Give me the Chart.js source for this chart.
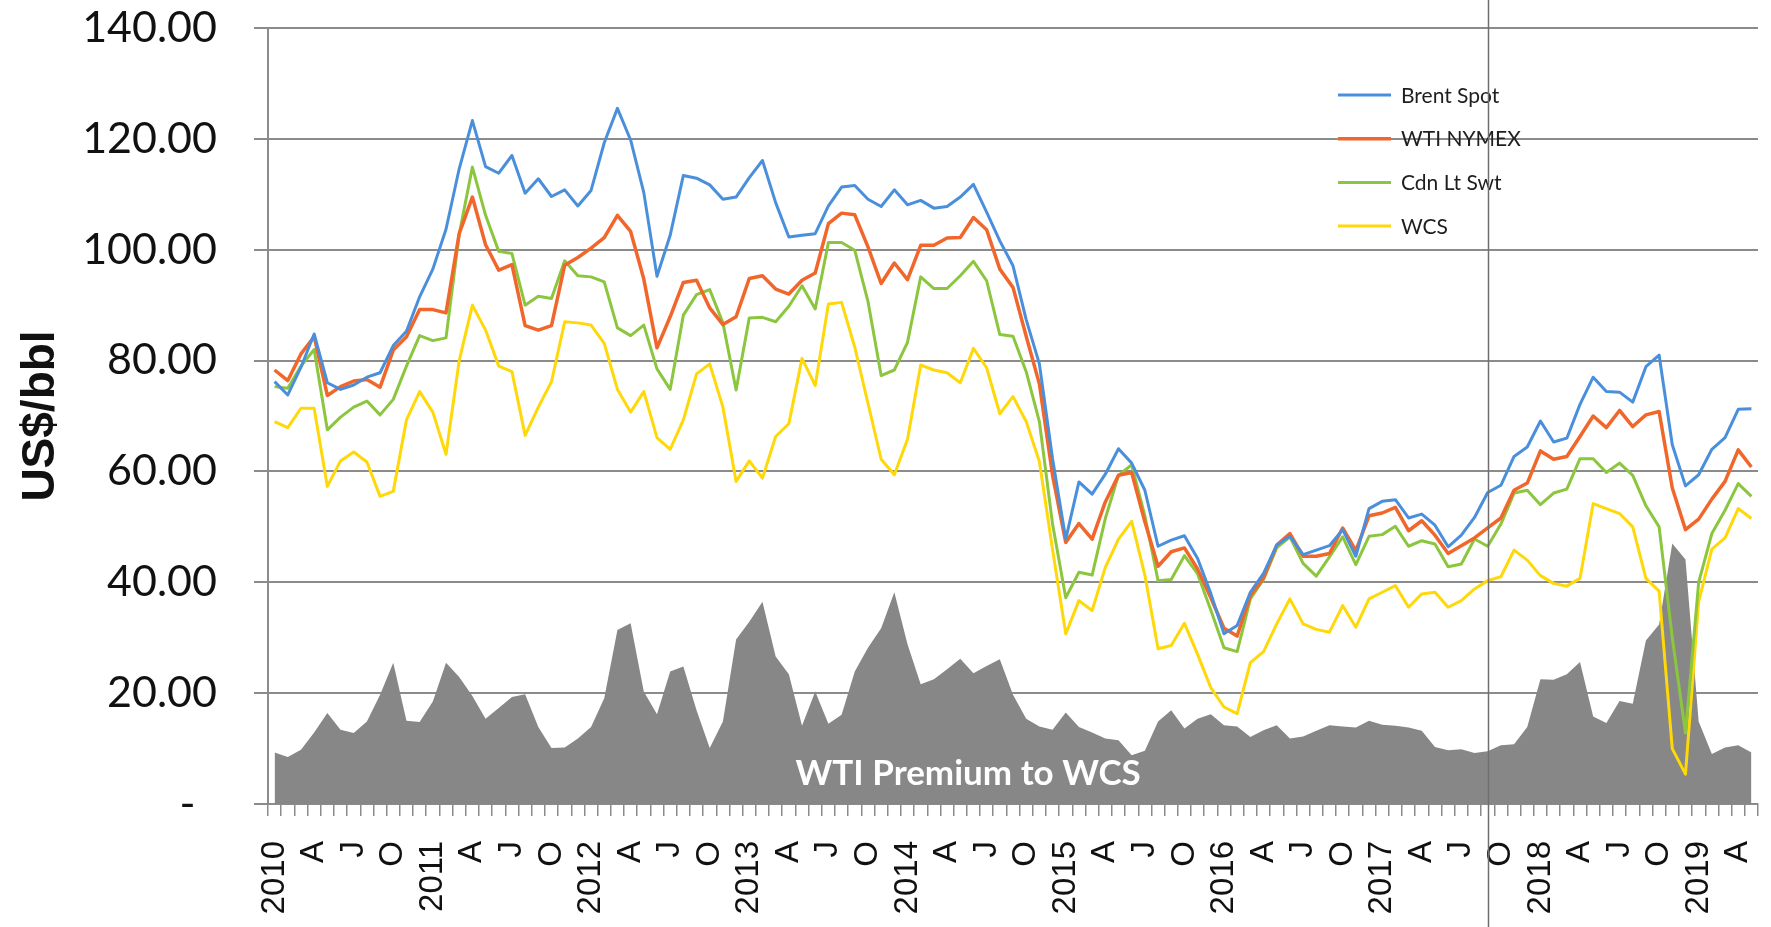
<!DOCTYPE html>
<html>
<head>
<meta charset="utf-8">
<script src="https://cdn.jsdelivr.net/npm/chart.js@4.4.1/dist/chart.umd.min.js"></script>
<style>
  html, body { margin: 0; padding: 0; background: #ffffff; }
  canvas { display: block; }
</style>
</head>
<body>
<canvas id="prices" width="1771" height="927"></canvas>
<script>
// Monthly crude prices, Jan 2010 – May 2019 (US$/bbl)
const firstYear = 2010;
const yearLabels = ['2010', '2011', '2012', '2013', '2014', '2015', '2016', '2017', '2018', '2019'];
const quarterLetters = ['A', 'J', 'O'];   // April, July, October
const monthNames = ['Jan', 'Feb', 'Mar', 'Apr', 'May', 'Jun', 'Jul', 'Aug', 'Sep', 'Oct', 'Nov', 'Dec'];

const brentSpot = [
  76.2, 73.8, 78.8, 84.8, 76.0, 74.8, 75.6, 77.0, 77.8, 82.7, 85.3, 91.5,
  96.5, 103.7, 114.6, 123.3, 115.0, 113.8, 117.0, 110.2, 112.8, 109.6, 110.8, 107.9,
  110.7, 119.3, 125.5, 119.8, 110.3, 95.2, 102.6, 113.4, 112.9, 111.7, 109.1, 109.5,
  113.0, 116.1, 108.5, 102.3, 102.6, 102.9, 107.9, 111.3, 111.6, 109.1, 107.8, 110.8,
  108.1, 108.9, 107.5, 107.8, 109.5, 111.8, 106.8, 101.6, 97.1, 87.4, 79.4, 62.3,
  47.8, 58.1, 55.9, 59.5, 64.1, 61.5, 56.6, 46.5, 47.6, 48.4, 44.3, 38.0,
  30.7, 32.2, 38.2, 41.6, 46.7, 48.3, 45.0, 45.8, 46.6, 49.5, 44.7, 53.3,
  54.6, 54.9, 51.6, 52.3, 50.3, 46.4, 48.5, 51.7, 56.2, 57.5, 62.7, 64.4,
  69.1, 65.3, 66.0, 72.1, 77.0, 74.4, 74.3, 72.5, 78.9, 81.0, 64.8, 57.4,
  59.4, 64.0, 66.1, 71.2, 71.3
];

const wtiNymex = [
  78.3, 76.4, 81.2, 84.3, 73.7, 75.3, 76.3, 76.6, 75.2, 81.9, 84.3, 89.2,
  89.2, 88.6, 102.9, 109.5, 100.9, 96.3, 97.3, 86.3, 85.5, 86.3, 97.2, 98.6,
  100.3, 102.2, 106.2, 103.3, 94.7, 82.3, 87.9, 94.1, 94.5, 89.5, 86.5, 87.9,
  94.8, 95.3, 92.9, 92.0, 94.5, 95.8, 104.7, 106.6, 106.3, 100.5, 93.9, 97.6,
  94.6, 100.8, 100.8, 102.1, 102.2, 105.8, 103.6, 96.5, 93.2, 84.4, 75.8, 59.3,
  47.2, 50.6, 47.8, 54.5, 59.3, 59.8, 50.9, 42.9, 45.5, 46.2, 42.4, 37.2,
  31.7, 30.3, 37.6, 40.8, 46.7, 48.8, 44.7, 44.7, 45.2, 49.8, 45.7, 52.0,
  52.5, 53.5, 49.3, 51.1, 48.5, 45.2, 46.6, 48.0, 49.8, 51.6, 56.6, 57.9,
  63.7, 62.2, 62.7, 66.3, 70.0, 67.9, 71.0, 68.1, 70.2, 70.8, 57.0, 49.5,
  51.4, 55.0, 58.2, 63.9, 60.8
];

const cdnLightSweet = [
  75.3, 75.0, 79.0, 82.0, 67.5, 69.8, 71.6, 72.7, 70.2, 73.0, 79.0, 84.5,
  83.6, 84.1, 102.8, 114.9, 106.2, 99.7, 99.3, 90.0, 91.6, 91.2, 98.0, 95.3,
  95.1, 94.2, 85.9, 84.5, 86.4, 78.5, 74.8, 88.2, 91.9, 92.8, 86.8, 74.7,
  87.7, 87.8, 87.0, 89.8, 93.5, 89.3, 101.3, 101.3, 99.9, 90.7, 77.3, 78.3,
  83.3, 95.1, 93.0, 93.0, 95.3, 97.9, 94.4, 84.7, 84.4, 78.0, 69.0, 50.5,
  37.2, 41.8, 41.3, 51.5, 59.3, 61.2, 52.0, 40.3, 40.5, 44.8, 41.5, 35.0,
  28.2, 27.5, 37.0, 40.5, 46.2, 48.2, 43.4, 41.1, 44.6, 48.2, 43.2, 48.3,
  48.6, 50.1, 46.5, 47.5, 46.9, 42.8, 43.3, 47.8, 46.5, 50.5, 56.1, 56.6,
  54.0, 56.1, 56.8, 62.3, 62.3, 59.8, 61.5, 59.3, 53.8, 50.0, 30.0, 12.8,
  40.0, 48.8, 53.0, 57.8, 55.5
];

const wcs = [
  69.0, 67.9, 71.4, 71.4, 57.3, 61.9, 63.5, 61.7, 55.5, 56.4, 69.3, 74.4,
  70.7, 63.1, 80.0, 90.0, 85.5, 79.0, 78.0, 66.5, 71.6, 76.2, 87.0, 86.8,
  86.4, 83.1, 74.8, 70.7, 74.4, 66.1, 64.0, 69.3, 77.6, 79.4, 71.6, 58.2,
  61.9, 58.8, 66.3, 68.6, 80.4, 75.5, 90.2, 90.5, 82.4, 72.3, 62.2, 59.4,
  65.8, 79.2, 78.3, 77.8, 76.0, 82.2, 78.7, 70.4, 73.5, 69.0, 61.8, 45.9,
  30.7, 36.7, 34.9, 42.7, 47.8, 51.0, 41.3, 28.0, 28.6, 32.6, 27.0, 21.0,
  17.5, 16.3, 25.5, 27.5, 32.5, 37.0, 32.5, 31.5, 31.0, 35.8, 31.9, 37.0,
  38.2, 39.4, 35.5, 37.9, 38.2, 35.5, 36.7, 38.8, 40.3, 41.0, 45.8, 44.0,
  41.2, 39.8, 39.3, 40.7, 54.2, 53.3, 52.4, 50.0, 40.7, 38.4, 10.0, 5.4,
  36.5, 46.0, 48.0, 53.3, 51.5
];

// WTI premium over WCS, US$/bbl
const wtiPremium = [
  9.3, 8.5, 9.8, 12.9, 16.4, 13.4, 12.8, 14.9, 19.7, 25.5, 15.0, 14.8,
  18.5, 25.5, 22.9, 19.5, 15.4, 17.3, 19.3, 19.8, 13.9, 10.1, 10.2, 11.8,
  13.9, 19.1, 31.4, 32.6, 20.3, 16.2, 23.9, 24.8, 16.9, 10.1, 14.9, 29.7,
  32.9, 36.5, 26.6, 23.4, 14.1, 20.3, 14.5, 16.1, 23.9, 28.2, 31.7, 38.2,
  28.8, 21.6, 22.5, 24.3, 26.2, 23.6, 24.9, 26.1, 19.7, 15.4, 14.0, 13.4,
  16.5, 13.9, 12.9, 11.8, 11.5, 8.8, 9.6, 14.9, 16.9, 13.6, 15.4, 16.2,
  14.2, 14.0, 12.1, 13.3, 14.2, 11.8, 12.2, 13.2, 14.2, 14.0, 13.8, 15.0,
  14.3, 14.1, 13.8, 13.2, 10.3, 9.7, 9.9, 9.2, 9.5, 10.6, 10.8, 13.9,
  22.5, 22.4, 23.4, 25.6, 15.8, 14.6, 18.6, 18.1, 29.5, 32.4, 47.0, 44.1,
  14.9, 9.0, 10.2, 10.6, 9.3
];

// One category per month
const monthLabels = brentSpot.map((_, i) =>
  monthNames[i % 12] + ' ' + (firstYear + Math.floor(i / 12)));

// Month index of the vertical divider (Sep 2017)
const dividerMonth = 92;

const GRID = '#8b8b8b';

// Key in the upper right of the plot for the four price lines
const priceKey = {
  id: 'priceKey',
  afterDatasetsDraw(chart) {
    const ctx = chart.ctx;
    ctx.save();
    ctx.font = '21px Lato, "Open Sans", sans-serif';
    ctx.textBaseline = 'middle';
    ctx.textAlign = 'left';
    chart.data.datasets.forEach((ds, k) => {
      if (ds.fill) return;
      const y = 95 + k * 43.7;
      ctx.strokeStyle = ds.borderColor;
      ctx.lineWidth = ds.borderWidth;
      ctx.lineCap = 'butt';
      ctx.beginPath();
      ctx.moveTo(1338, y);
      ctx.lineTo(1391, y);
      ctx.stroke();
      ctx.fillStyle = '#1e1e1e';
      ctx.fillText(ds.label, 1401, y + 1);
    });
    ctx.restore();
  }
};

// White caption inside the premium area, plus the vertical divider
const annotations = {
  id: 'annotations',
  afterDatasetsDraw(chart) {
    const ctx = chart.ctx;
    const xs = chart.scales.x, ys = chart.scales.y;
    const area = chart.data.datasets.find(d => d.fill);
    ctx.save();
    ctx.font = 'bold 35px Lato, "Open Sans", sans-serif';
    ctx.fillStyle = '#ffffff';
    ctx.textAlign = 'center';
    ctx.textBaseline = 'middle';
    ctx.fillText(area.label, xs.getPixelForValue(52.6), ys.getPixelForValue(5.4));
    ctx.restore();
  },
  afterDraw(chart) {
    const ctx = chart.ctx;
    const x = Math.round(chart.scales.x.getPixelForValue(dividerMonth)) + 0.5;
    ctx.save();
    ctx.strokeStyle = '#6f6f6f';
    ctx.lineWidth = 1.5;
    ctx.beginPath();
    ctx.moveTo(x, 0);
    ctx.lineTo(x, chart.height);
    ctx.stroke();
    ctx.restore();
  }
};

const line = (label, data, color, width) => ({
  label, data,
  borderColor: color,
  borderWidth: width,
  fill: false,
  pointRadius: 0,
  tension: 0,
  borderJoinStyle: 'round'
});

new Chart(document.getElementById('prices').getContext('2d'), {
  type: 'line',
  data: {
    labels: monthLabels,
    datasets: [
      line('Brent Spot', brentSpot, '#4a8fdc', 3),
      line('WTI NYMEX', wtiNymex, '#f0662b', 3.5),
      line('Cdn Lt Swt', cdnLightSweet, '#8cc63e', 3),
      line('WCS', wcs, '#ffd80a', 3),
      {
        label: 'WTI Premium to WCS',
        data: wtiPremium,
        fill: 'origin',
        backgroundColor: '#878787',
        borderColor: '#878787',
        borderWidth: 0,
        pointRadius: 0,
        tension: 0
      }
    ]
  },
  options: {
    responsive: false,
    animation: false,
    devicePixelRatio: 1,
    layout: { autoPadding: false, padding: { top: 28, right: 13, left: 0, bottom: 0 } },
    plugins: { legend: { display: false }, tooltip: { enabled: false } },
    scales: {
      x: {
        offset: true,
        grid: {
          display: true,
          drawOnChartArea: false,
          drawTicks: true,
          tickLength: 12,
          color: GRID,
          lineWidth: 1.5,
          offset: true
        },
        border: { display: true, color: GRID, width: 2 },
        ticks: {
          autoSkip: false,
          minRotation: 90,
          maxRotation: 90,
          padding: 25,
          color: '#111111',
          font: { family: '"Liberation Sans", Arial, sans-serif', size: 33 },
          callback: (value, index) => {
            const m = index % 12;
            if (m % 3 !== 0) return '';
            return m === 0 ? yearLabels[index / 12] : quarterLetters[m / 3 - 1];
          }
        },
        afterFit(scale) {
          scale.height = 123;
          scale.paddingLeft = 0;
          scale.paddingRight = 0;
        }
      },
      y: {
        min: 0,
        max: 140,
        ticks: {
          stepSize: 20,
          padding: 37,
          color: '#111111',
          font: { family: 'Lato, "Open Sans", sans-serif', size: 43 },
          callback: v => (v === 0 ? '-\u2002' : v.toFixed(2))
        },
        grid: { color: GRID, lineWidth: 2, tickLength: 14, drawTicks: true },
        border: { display: true, color: GRID, width: 2 },
        title: {
          display: true,
          text: 'US$/bbl',
          color: '#111111',
          font: { family: '"Liberation Sans", Arial, sans-serif', size: 46, weight: 'bold' },
          padding: { top: 14, bottom: 0 }
        },
        afterFit(scale) {
          scale.width = 268;
          scale.paddingTop = 0;
          scale.paddingBottom = 0;
        }
      }
    }
  },
  plugins: [priceKey, annotations]
});
</script>
</body>
</html>
